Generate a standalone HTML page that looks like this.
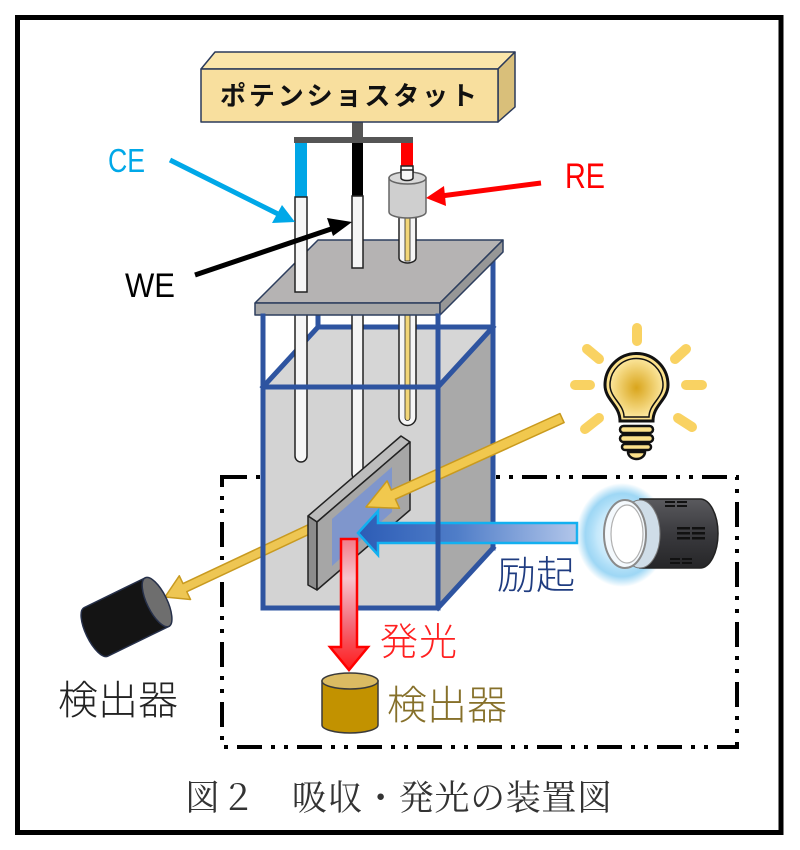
<!DOCTYPE html>
<html><head><meta charset="utf-8"><style>
html,body{margin:0;padding:0;background:#fff;}
svg{display:block;}
</style></head><body>
<svg width="800" height="850" viewBox="0 0 800 850" xmlns="http://www.w3.org/2000/svg">
<defs>
<linearGradient id="blueG" x1="0" y1="0" x2="1" y2="0">
<stop offset="0" stop-color="#2c5cb6"/><stop offset="0.45" stop-color="#4f7dc8"/><stop offset="1" stop-color="#b2c6ea"/>
</linearGradient>
<linearGradient id="redG" x1="0" y1="0" x2="0" y2="1">
<stop offset="0" stop-color="#f27a88"/><stop offset="0.3" stop-color="#f6c4cc"/><stop offset="0.65" stop-color="#f46a78"/><stop offset="1" stop-color="#ff1a1a"/>
</linearGradient>
<radialGradient id="bulbG" cx="0.5" cy="0.5" r="0.5">
<stop offset="0" stop-color="#d9a51c"/><stop offset="1" stop-color="#fbe59a"/>
</radialGradient>
<radialGradient id="glowG" cx="0.5" cy="0.5" r="0.5">
<stop offset="0" stop-color="#ffffff"/><stop offset="0.55" stop-color="#c4e8fb"/><stop offset="0.8" stop-color="#86cdf2" stop-opacity="0.8"/><stop offset="1" stop-color="#86cdf2" stop-opacity="0"/>
</radialGradient>
<linearGradient id="bodyG" x1="0" y1="0" x2="0" y2="1">
<stop offset="0" stop-color="#5a5a5e"/><stop offset="0.5" stop-color="#3a3a3e"/><stop offset="1" stop-color="#262628"/>
</linearGradient>
</defs>

<rect x="0" y="0" width="800" height="850" fill="#fff"/>
<!-- outer frame -->
<rect x="17.5" y="17.5" width="763.5" height="815" fill="none" stroke="#000" stroke-width="5"/>

<!-- dash-dot box -->
<rect x="222" y="477" width="515" height="270" fill="none" stroke="#000" stroke-width="4" stroke-dasharray="25 9 4 9 4 9"/>

<!-- cuvette fills -->
<polygon points="263,387 318,327 493,327 438,387" fill="#d6d6d6"/>
<rect x="263" y="387" width="175" height="221" fill="#d3d3d3"/>
<polygon points="438,387 493,327 493,548 438,608" fill="#a9a9a9"/>
<!-- back lines -->
<g stroke="#2e54a0" stroke-width="5" fill="none" stroke-linecap="square">
<line x1="318" y1="315" x2="318" y2="327"/>
<line x1="318" y1="327" x2="493" y2="327"/>
<line x1="493" y1="262" x2="493" y2="548"/>
<line x1="263" y1="387" x2="318" y2="327"/>
<line x1="438" y1="387" x2="493" y2="327"/>
<line x1="438" y1="608" x2="493" y2="548"/>
</g>

<!-- rods below plate -->
<g stroke="#222" stroke-width="1.5">
<path d="M295,312 V456 a6,6 0 0 0 12,0 V312 Z" fill="#f6f6f6"/>
<path d="M352,312 V474 a5.5,5.5 0 0 0 11,0 V312 Z" fill="#f6f6f6"/>
<path d="M399,312 V417 a8.5,8.5 0 0 0 17,0 V312 Z" fill="#f6f6f6"/>
<path d="M405,312 V418 a2.5,2.5 0 0 0 5,0 V312 Z" fill="#f2d678" stroke-width="0.8"/>
</g>

<!-- plate -->
<g stroke="#2d3e5e" stroke-width="1.5" stroke-linejoin="round">
<polygon points="255,303 318,240 503,240 440,303" fill="#b5b3b3"/>
<rect x="255" y="303" width="185" height="12" fill="#a7a7a7"/>
<polygon points="440,303 503,240 503,252 440,315" fill="#979797"/>
</g>

<!-- rods above plate -->
<g stroke="#222" stroke-width="1.5">
<rect x="295" y="142" width="12" height="55" fill="#00a6e6" stroke="none"/>
<path d="M295,197 V292 H307 V197 Z" fill="#f6f6f6"/>
<rect x="352" y="142" width="11" height="54" fill="#000" stroke="none"/>
<path d="M352,196 V268 H363 V196 Z" fill="#f6f6f6"/>
<rect x="401" y="142" width="12" height="24" fill="#ff0000" stroke="none"/>
<path d="M401,166 V180 H413 V166 Z" fill="#f6f6f6"/>
<path d="M399,216 V258 a8.5,5 0 0 0 17,0 V216 Z" fill="#f6f6f6"/>
<rect x="405" y="216" width="5" height="45" fill="#f2d678" stroke-width="0.8"/>
<path d="M389,178 V212 a18.5,6 0 0 0 37,0 V178 Z" fill="#cfcfcf" stroke="#666"/>
<ellipse cx="407.5" cy="178" rx="18.5" ry="6" fill="#d9d9d9" stroke="#666"/>
<path d="M401,170 V178 a6,2.5 0 0 0 12,0 V170 Z" fill="#f6f6f6"/>
</g>

<!-- connector -->
<rect x="352" y="121" width="11" height="17" fill="#555"/>
<rect x="294" y="137" width="119" height="6" fill="#555"/>

<!-- potentiostat -->
<g stroke="#2b3a5a" stroke-width="1.5" stroke-linejoin="round">
<polygon points="201,69 215,52 515,52 498,69" fill="#fbe6aa"/>
<polygon points="498,69 515,52 515,107 498,122" fill="#d9bf7a"/>
<rect x="201" y="69" width="297" height="53" fill="#f8df9e"/>
</g>
<text x="220" y="105" font-family="'Noto Sans CJK JP','WenQuanYi Zen Hei',sans-serif" font-weight="bold" font-size="26" fill="#111" textLength="257" lengthAdjust="spacing">ポテンショスタット</text>

<!-- labels and pointer arrows -->
<text x="108" y="172" font-family="'Liberation Sans',sans-serif" font-size="33" fill="#00a8e8" textLength="37" lengthAdjust="spacingAndGlyphs">CE</text>
<line x1="170" y1="160" x2="280" y2="215" stroke="#00a8e8" stroke-width="5"/>
<polygon points="295,222 272,223 282,205" fill="#00a8e8"/>

<text x="125" y="297" font-family="'Liberation Sans',sans-serif" font-size="34" fill="#000" textLength="50" lengthAdjust="spacingAndGlyphs">WE</text>
<line x1="195" y1="275" x2="337" y2="227" stroke="#000" stroke-width="5"/>
<polygon points="352,222 333,236 327,218" fill="#000"/>

<text x="565" y="188" font-family="'Liberation Sans',sans-serif" font-size="35" fill="#f00" textLength="40" lengthAdjust="spacingAndGlyphs">RE</text>
<line x1="541" y1="183" x2="441" y2="196" stroke="#f00" stroke-width="5"/>
<polygon points="426,198 444,186 446,206" fill="#f00"/>

<!-- beam 2 (to left detector), behind slab -->
<polygon points="331.9,523.6 186.8,591.7 190.5,599.5 165,597 179.3,575.8 183,583.6 328.1,515.4" fill="#eec653" stroke="#c89a20" stroke-width="1.5" stroke-linejoin="round"/>

<!-- slab -->
<g stroke="#222" stroke-width="1.5" stroke-linejoin="round">
<polygon points="308,516 401,436 410,442 317,522" fill="#bdbdbd"/>
<polygon points="308,516 317,522 317,590 308,585" fill="#8c8c8c"/>
<polygon points="317,522 410,442 410,510 317,590" fill="#a6a6a6"/>
</g>
<polygon points="332,519 392,467 392,512 332,566" fill="#7f96cc"/>

<!-- beam 1 -->
<polygon points="564.1,422.6 395.4,499.2 399.5,508.3 366,507 387.1,480.9 391.2,490.1 559.9,413.5" fill="#f1c84e" stroke="#c99a1e" stroke-width="1.5" stroke-linejoin="round"/>

<!-- blue excitation arrow -->
<polygon points="577,523 378,523 378,511 358,533 378,555 378,543 577,543" fill="url(#blueG)" stroke="#12b0f0" stroke-width="2.5" stroke-linejoin="miter"/>

<!-- front cuvette lines -->
<g stroke="#2e54a0" stroke-width="5" fill="none" stroke-linecap="square">
<line x1="263" y1="316" x2="263" y2="608"/>
<line x1="438" y1="316" x2="438" y2="608"/>
<line x1="263" y1="387" x2="438" y2="387"/>
<line x1="263" y1="608" x2="438" y2="608"/>
</g>

<!-- red emission arrow -->
<polygon points="341,539 357,539 357,647 368,647 349,670 330,647 341,647" fill="url(#redG)" stroke="#ff0000" stroke-width="2.5"/>

<!-- lightbulb -->
<g stroke="#f9d262" stroke-width="10" stroke-linecap="round">
<line x1="637" y1="328" x2="637" y2="341"/>
<line x1="575" y1="385" x2="590" y2="385"/>
<line x1="686" y1="385" x2="702" y2="385"/>
<line x1="587" y1="349" x2="599" y2="359"/>
<line x1="675" y1="359" x2="686" y2="349"/>
<line x1="585" y1="429" x2="599" y2="418"/>
<line x1="678" y1="418" x2="692" y2="427"/>
</g>
<path d="M620,421 C620,405 605,400 605,385 A31.5,31.5 0 1 1 668,385 C668,400 653,405 653,421 Z" fill="#fbe08a" stroke="#111" stroke-width="3"/>
<path d="M624,417 C624,404 610,398 610,385 A26.5,26.5 0 1 1 663,385 C663,398 649,404 649,417 Z" fill="url(#bulbG)" stroke="#111" stroke-width="1.5"/>
<g fill="#fbe08a" stroke="#111" stroke-width="2.5">
<rect x="620" y="426" width="33" height="7" rx="3.5"/>
<rect x="620" y="435" width="33" height="7" rx="3.5"/>
<rect x="622" y="444" width="29" height="6" rx="3"/>
<path d="M628,452 H645 A8.5,7 0 0 1 628,452 Z"/>
</g>

<!-- flashlight -->
<ellipse cx="622" cy="535" rx="46" ry="52" fill="url(#glowG)"/>
<path d="M640,499 H700 A18,34.5 0 0 1 700,568 H640 Z" fill="url(#bodyG)" stroke="#222" stroke-width="1.5"/>
<g fill="#111">
<rect x="665" y="501" width="10" height="2"/><rect x="677" y="501" width="10" height="2"/>
<rect x="665" y="505" width="10" height="2"/><rect x="677" y="505" width="10" height="2"/>
<rect x="677" y="527" width="13" height="2.5"/><rect x="692" y="527" width="13" height="2.5"/>
<rect x="677" y="532" width="13" height="2.5"/><rect x="692" y="532" width="13" height="2.5"/>
<rect x="677" y="537" width="13" height="2.5"/><rect x="692" y="537" width="13" height="2.5"/>
<rect x="670" y="558" width="10" height="2"/><rect x="682" y="558" width="10" height="2"/>
<rect x="670" y="562" width="10" height="2"/><rect x="682" y="562" width="10" height="2"/>
</g>
<ellipse cx="640" cy="534" rx="20" ry="34" fill="#cfdde8" stroke="#777" stroke-width="1"/>
<ellipse cx="625" cy="534" rx="21" ry="34" fill="#f4f9fd" stroke="#8a8a8a" stroke-width="2"/>
<ellipse cx="627" cy="534" rx="16" ry="29" fill="#ffffff" stroke="#b0b0b0" stroke-width="1.2"/>

<!-- left black detector -->
<g transform="translate(126.5,617) rotate(-26)">
<path d="M-34,-27 H34 V27 H-34 A10,27 0 0 1 -34,-27 Z" fill="#141414" stroke="#26304a" stroke-width="1.5"/>
<ellipse cx="34" cy="0" rx="10" ry="27" fill="#6e6e6e" stroke="#26304a" stroke-width="1.5"/>
</g>

<!-- gold detector -->
<path d="M322,681 V725 A28,8 0 0 0 378,725 V681 Z" fill="#c29200" stroke="#3a3a3a" stroke-width="1.5"/>
<ellipse cx="350" cy="681" rx="28" ry="8" fill="#dbbb62" stroke="#3a3a3a" stroke-width="1.5"/>

<!-- CJK labels -->
<text x="497" y="589" font-family="'Noto Sans CJK JP',sans-serif" font-weight="300" font-size="39" fill="#1f3c80" textLength="78" lengthAdjust="spacing">励起</text>
<text x="380" y="655" font-family="'Noto Sans CJK JP',sans-serif" font-weight="300" font-size="38" fill="#ff2020" textLength="77" lengthAdjust="spacing">発光</text>
<text x="387" y="719" font-family="'Noto Sans CJK JP',sans-serif" font-weight="300" font-size="40" fill="#86702a" textLength="120" lengthAdjust="spacing">検出器</text>
<text x="58" y="714" font-family="'Noto Sans CJK JP',sans-serif" font-weight="300" font-size="40" fill="#222" textLength="120" lengthAdjust="spacing">検出器</text>

<!-- caption -->
<text x="185" y="810" font-family="'Liberation Serif','Noto Serif CJK SC',serif" font-size="35" fill="#333" textLength="427" lengthAdjust="spacing">図２　吸収・発光の装置図</text>
</svg>
</body></html>
